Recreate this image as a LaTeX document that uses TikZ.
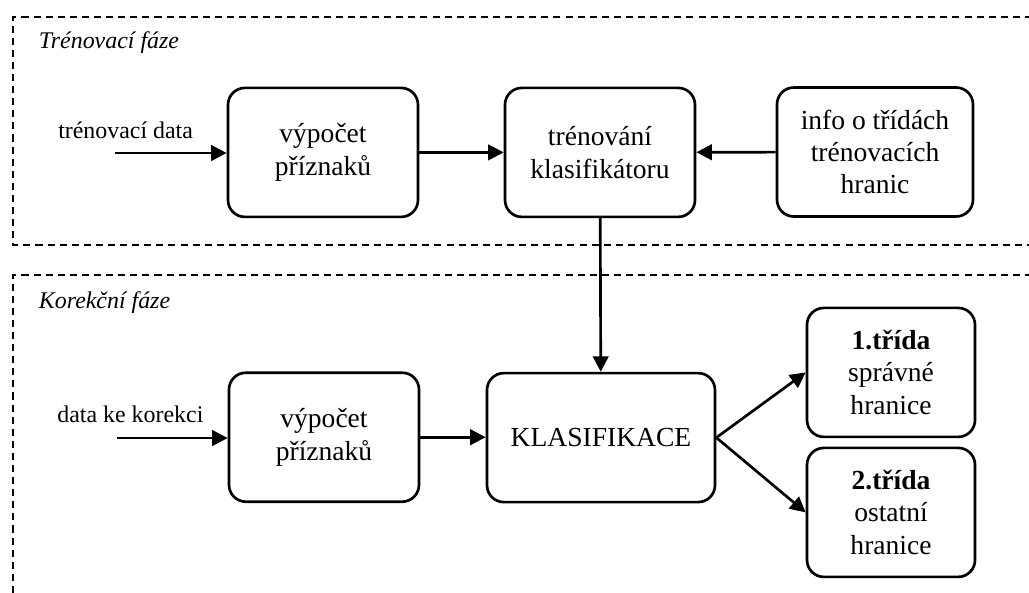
\documentclass[tikz,border=0pt]{standalone}
\usepackage{fontspec}
\setmainfont{Liberation Serif}
\usetikzlibrary{arrows.meta}

\begin{document}
\begin{tikzpicture}[
    blok/.style={draw, line width=1.9pt, rounded corners=12pt, align=center,
      minimum width=4.75cm, minimum height=3.225cm,
      font=\fontsize{19.6}{23}\selectfont},
    popis/.style={font=\fontsize{17}{20}\selectfont},
    ramec/.style={line width=1.2pt, dash pattern=on 5pt off 3.6pt},
    sipka/.style={line width=1.9pt, -{Triangle[length=11pt, width=11pt]}}
  ]
    \useasboundingbox (0, 0) rectangle (25.725, -14.8);

    % ramce obou fazi
    \draw[ramec] (25.8, -0.42) -- (0.33, -0.42) -- (0.33, -6.13) -- (25.8, -6.13);
    \draw[ramec] (25.8, -6.87) -- (0.33, -6.87) -- (0.33, -14.9);
    \node[popis, font=\fontsize{17}{20}\selectfont\itshape, anchor=base west] (fazeA) at (0.85, -1.2) {Trénovací fáze};
    \node[popis, font=\fontsize{17}{20}\selectfont\itshape, anchor=base west] (fazeB) at (0.85, -7.7) {Korekční fáze};

    \node[blok] (V1) at (8.075, -3.81) {výpočet\\příznaků};
    \node[blok] (T) at (15.0, -3.81) {trénování\\klasifikátoru};
    \node[blok, minimum width=4.9cm] (I) at (21.875, -3.8) {info o třídách\\trénovacích\\hranic};
    \node[blok] (V2) at (8.1, -10.93) {výpočet\\příznaků};
    \node[blok, minimum width=5.7cm] (K) at (15.025, -10.94) {KLASIFIKACE};
    \node[blok, minimum width=4.2cm] (C1) at (22.275, -9.31) {\textbf{1.třída}\\správné\\hranice};
    \node[blok, minimum width=4.2cm] (C2) at (22.275, -12.81) {\textbf{2.třída}\\ostatní\\hranice};

    \coordinate (vstupA) at (2.875, -3.825);
    \coordinate (vstupB) at (2.925, -10.95);
    \node[popis, anchor=base] (dataA) at (3.14, -3.45) {trénovací data};
    \node[popis, anchor=base] (dataB) at (3.26, -10.55) {data ke korekci};

    % sipky
    \draw[sipka] (vstupA) -- (vstupA -| V1.west);
    \draw[sipka] (vstupB) -- (vstupB -| V2.west);
    \draw[sipka] (V1) -- (T);
    \draw[sipka] (I) -- (T);
    \draw[sipka] (T) -- (K);
    \draw[sipka] (V2.east) -- (K.west |- V2.east);
    \draw[sipka] (K.east) -- (C1.west);
    \draw[sipka] (K.east) -- (C2.west);
\end{tikzpicture}
\end{document}
